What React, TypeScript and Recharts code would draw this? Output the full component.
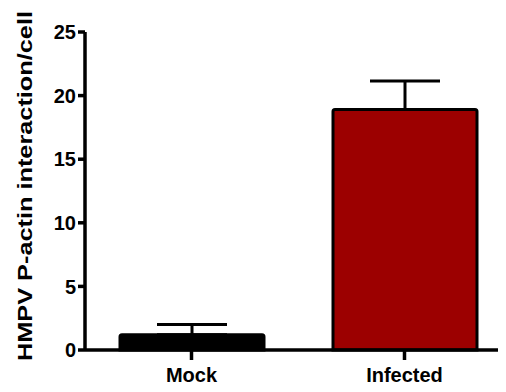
import React from 'react';
import { BarChart, Bar, XAxis, YAxis, ErrorBar, Cell } from 'recharts';

const categories = ['Mock', 'Infected'];
const means = [1.2, 18.9];
const upperErrors = [0.8, 2.25];
const colors = ['#000000', '#9c0000'];
const yTicks = [0, 5, 10, 15, 20, 25];
const yLabel = 'HMPV P-actin interaction/cell';

const data = categories.map((name, i) => ({
  name,
  value: means[i],
  err: [0, upperErrors[i]],
}));

const FONT = '"Liberation Sans", Arial, sans-serif';

const YLabel = () => {
  const cx = 16;
  const cy = 178;
  return (
    <text
      x={cx}
      y={cy}
      transform={`rotate(-90, ${cx}, ${cy})`}
      textAnchor="middle"
      dominantBaseline="central"
      fontFamily={FONT}
      fontWeight="bold"
      fontSize={21}
      fill="#000"
      textLength={350}
      lengthAdjust="spacingAndGlyphs"
    >
      {yLabel}
    </text>
  );
};

export default function App() {
  return (
    <div style={{ width: 498, height: 384, overflow: 'hidden' }}>
      <BarChart
        width={504}
        height={384}
        data={data}
        margin={{ top: 24, right: 1, bottom: 0, left: 0 }}
      >
        <XAxis
          dataKey="name"
          height={42}
          tickSize={10}
          tickMargin={8}
          axisLine={{ stroke: '#000', strokeWidth: 3.5 }}
          tickLine={{ stroke: '#000', strokeWidth: 3.5 }}
          tick={{ fill: '#000', fontFamily: FONT, fontWeight: 'bold', fontSize: 20 }}
        />
        <YAxis
          width={77}
          domain={[0, 25]}
          ticks={yTicks}
          interval={0}
          tickSize={7}
          tickMargin={2}
          axisLine={{ stroke: '#000', strokeWidth: 3.5 }}
          tickLine={{ stroke: '#000', strokeWidth: 3.5 }}
          tick={{ fill: '#000', fontFamily: FONT, fontWeight: 'bold', fontSize: 20 }}
          label={<YLabel />}
        />
        <Bar
          dataKey="value"
          barSize={144}
          stroke="#000"
          strokeWidth={3}
          radius={[2, 2, 0, 0]}
          isAnimationActive={false}
        >
          {data.map((d, i) => (
            <Cell key={d.name} fill={colors[i]} />
          ))}
          <ErrorBar
            dataKey="err"
            direction="y"
            width={35}
            stroke="#000"
            strokeWidth={3}
            isAnimationActive={false}
          />
        </Bar>
      </BarChart>
    </div>
  );
}
